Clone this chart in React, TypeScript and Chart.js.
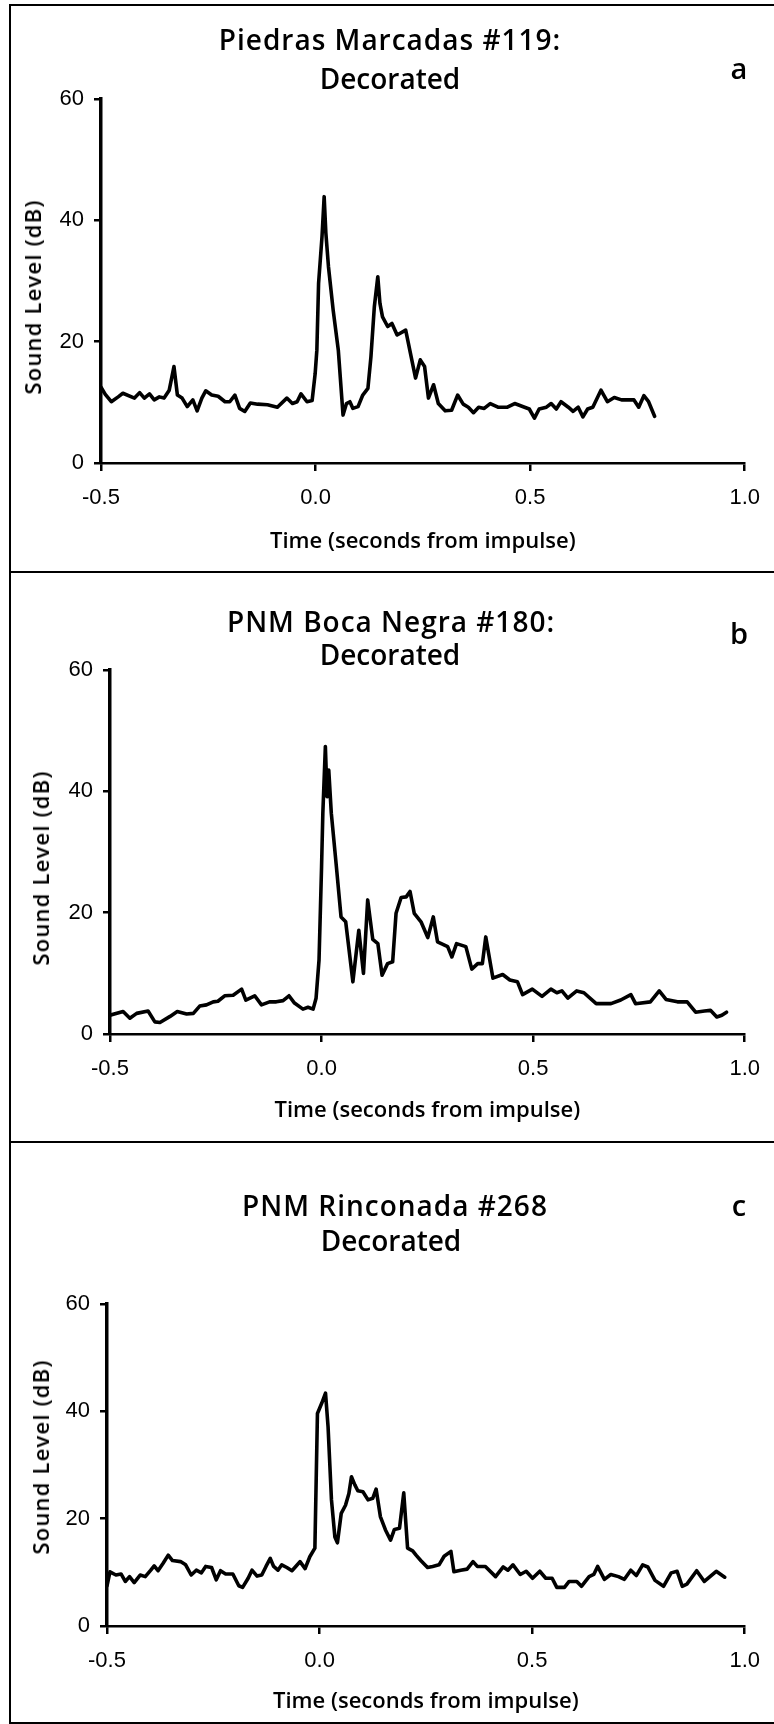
import React, { useEffect, useRef } from 'react';
import { Chart, registerables } from 'chart.js';

Chart.register(...registerables);

// ---------- data ----------
const xTickValues = [-0.5, 0, 0.5, 1.0];
const xTickLabels = ['-0.5', '0.0', '0.5', '1.0'];
const yTickValues = [0, 20, 40, 60];
const yTickLabels = ['0', '20', '40', '60'];

const timeA = [-0.500, -0.490, -0.476, -0.460, -0.449, -0.422, -0.410, -0.399, -0.387, -0.376, -0.364, -0.353, -0.341, -0.330, -0.322, -0.311, -0.299, -0.286, -0.276, -0.265, -0.256, -0.242, -0.227, -0.211, -0.200, -0.188, -0.177, -0.165, -0.152, -0.135, -0.112, -0.089, -0.067, -0.054, -0.043, -0.034, -0.020, -0.008, -0.001, 0.003, 0.007, 0.015, 0.020, 0.024, 0.030, 0.041, 0.053, 0.064, 0.072, 0.080, 0.087, 0.099, 0.110, 0.122, 0.129, 0.137, 0.145, 0.150, 0.156, 0.168, 0.178, 0.190, 0.210, 0.221, 0.233, 0.244, 0.254, 0.263, 0.275, 0.286, 0.302, 0.317, 0.331, 0.344, 0.356, 0.368, 0.380, 0.393, 0.407, 0.425, 0.447, 0.464, 0.487, 0.498, 0.510, 0.521, 0.538, 0.549, 0.561, 0.572, 0.589, 0.600, 0.612, 0.623, 0.634, 0.646, 0.665, 0.680, 0.696, 0.713, 0.731, 0.742, 0.753, 0.765, 0.776, 0.790];
const levelA = [12.5, 11.3, 10.1, 10.9, 11.5, 10.7, 11.6, 10.7, 11.4, 10.4, 10.9, 10.7, 12.0, 15.9, 11.2, 10.7, 9.3, 10.4, 8.6, 10.7, 11.9, 11.2, 11.0, 10.1, 10.1, 11.2, 9.0, 8.5, 9.9, 9.7, 9.6, 9.2, 10.7, 9.8, 10.1, 11.4, 10.1, 10.3, 14.7, 18.6, 29.6, 37.3, 43.9, 37.9, 32.4, 25.2, 18.6, 7.9, 9.8, 10.1, 9.0, 9.3, 11.2, 12.3, 17.5, 25.8, 30.7, 26.3, 24.1, 22.5, 23.0, 21.1, 21.9, 18.1, 14.0, 17.0, 15.9, 10.7, 12.9, 9.8, 8.6, 8.7, 11.2, 9.7, 9.2, 8.3, 9.2, 9.0, 9.8, 9.2, 9.2, 9.8, 9.2, 8.9, 7.4, 8.9, 9.2, 9.8, 8.9, 10.1, 9.2, 8.5, 9.2, 7.6, 8.9, 9.2, 12.0, 10.1, 10.8, 10.4, 10.4, 10.4, 9.2, 11.1, 10.1, 7.7];

const timeB = [-0.500, -0.469, -0.453, -0.437, -0.410, -0.394, -0.382, -0.358, -0.341, -0.319, -0.303, -0.288, -0.272, -0.256, -0.245, -0.229, -0.209, -0.189, -0.179, -0.158, -0.142, -0.123, -0.107, -0.091, -0.077, -0.064, -0.044, -0.032, -0.020, -0.013, -0.006, 0.000, 0.003, 0.009, 0.013, 0.017, 0.023, 0.035, 0.046, 0.057, 0.074, 0.088, 0.099, 0.109, 0.121, 0.133, 0.143, 0.156, 0.168, 0.176, 0.188, 0.200, 0.209, 0.219, 0.235, 0.251, 0.264, 0.274, 0.298, 0.308, 0.319, 0.341, 0.355, 0.369, 0.380, 0.388, 0.405, 0.428, 0.445, 0.463, 0.475, 0.498, 0.521, 0.542, 0.556, 0.568, 0.582, 0.603, 0.620, 0.649, 0.684, 0.707, 0.731, 0.742, 0.777, 0.798, 0.814, 0.841, 0.864, 0.884, 0.905, 0.919, 0.934, 0.946, 0.957];
const levelB = [3.1, 3.7, 2.6, 3.4, 3.8, 2.0, 1.9, 2.9, 3.7, 3.3, 3.4, 4.6, 4.8, 5.3, 5.4, 6.3, 6.4, 7.4, 5.6, 6.3, 4.8, 5.3, 5.3, 5.5, 6.3, 5.1, 4.1, 4.4, 4.1, 5.9, 12.2, 27.6, 36.4, 47.4, 39.1, 43.5, 36.4, 27.6, 19.3, 18.5, 8.6, 17.1, 10.0, 22.1, 15.6, 14.9, 9.7, 11.6, 11.9, 19.9, 22.5, 22.6, 23.5, 19.9, 18.5, 15.9, 19.3, 15.2, 14.4, 12.7, 14.9, 14.4, 10.7, 11.6, 11.6, 16.0, 9.2, 9.8, 8.9, 8.6, 6.5, 7.4, 6.2, 7.4, 6.8, 7.1, 5.9, 7.1, 6.8, 5.0, 5.0, 5.6, 6.5, 5.0, 5.3, 7.1, 5.7, 5.3, 5.3, 3.6, 3.8, 3.9, 2.8, 3.1, 3.6];

const timeC = [-0.500, -0.493, -0.479, -0.467, -0.457, -0.447, -0.436, -0.422, -0.410, -0.397, -0.389, -0.380, -0.368, -0.356, -0.346, -0.327, -0.315, -0.302, -0.290, -0.278, -0.268, -0.254, -0.243, -0.233, -0.221, -0.204, -0.190, -0.181, -0.168, -0.159, -0.147, -0.136, -0.126, -0.116, -0.108, -0.098, -0.089, -0.077, -0.065, -0.056, -0.046, -0.034, -0.023, -0.011, -0.005, 0.005, 0.014, 0.020, 0.028, 0.036, 0.042, 0.051, 0.061, 0.069, 0.075, 0.083, 0.090, 0.102, 0.114, 0.125, 0.133, 0.143, 0.155, 0.167, 0.176, 0.188, 0.198, 0.207, 0.219, 0.227, 0.238, 0.254, 0.266, 0.281, 0.293, 0.309, 0.316, 0.332, 0.347, 0.361, 0.371, 0.390, 0.414, 0.432, 0.443, 0.455, 0.472, 0.486, 0.501, 0.518, 0.532, 0.547, 0.558, 0.576, 0.587, 0.605, 0.616, 0.634, 0.645, 0.654, 0.670, 0.685, 0.703, 0.717, 0.732, 0.745, 0.760, 0.772, 0.789, 0.809, 0.827, 0.841, 0.853, 0.864, 0.887, 0.905, 0.933, 0.953];
const levelC = [7.5, 10.1, 9.5, 9.7, 8.3, 9.2, 8.1, 9.5, 9.2, 10.4, 11.2, 10.3, 11.7, 13.2, 12.2, 12.0, 11.4, 9.5, 10.4, 9.9, 11.1, 10.9, 8.6, 10.3, 9.7, 9.7, 7.5, 7.2, 8.9, 10.4, 9.3, 9.5, 11.1, 12.6, 11.1, 10.4, 11.4, 10.9, 10.3, 11.1, 12.0, 10.7, 12.9, 14.5, 39.6, 41.5, 43.4, 37.1, 23.5, 16.6, 15.5, 21.0, 22.5, 24.7, 27.8, 26.3, 25.2, 25.0, 23.5, 23.8, 25.5, 20.4, 17.9, 16.0, 18.0, 18.2, 24.8, 14.5, 14.0, 13.2, 12.2, 10.9, 11.1, 11.4, 13.0, 13.9, 10.1, 10.4, 10.6, 12.0, 11.1, 11.1, 9.2, 11.0, 10.4, 11.4, 9.6, 10.2, 8.9, 10.2, 8.9, 8.9, 7.2, 7.2, 8.3, 8.3, 7.4, 9.2, 9.6, 11.1, 8.7, 9.6, 9.2, 8.7, 10.4, 9.4, 11.4, 11.0, 8.5, 7.4, 9.9, 10.2, 7.4, 7.8, 10.3, 8.3, 10.2, 9.1];

const titlesA = ['Piedras Marcadas #119:', 'Decorated'];
const titlesB = ['PNM Boca Negra #180:', 'Decorated'];
const titlesC = ['PNM Rinconada #268', 'Decorated'];
const xAxisTitle = 'Time (seconds from impulse)';
const yAxisTitle = 'Sound Level (dB)';

// ---------- layout ----------
const TICK_FONT = "'Liberation Sans', Arial, sans-serif";
const TITLE_FONT = "'Open Sans', 'DejaVu Sans', sans-serif";

type PanelCfg = {
  time: number[];
  level: number[];
  top: number;
  height: number;
  area: { left: number; right: number; top: number; bottom: number };
  xTitlePad: number;
  titles: string[];
  titleY: number[];
  titleX: number[];
  letter: string;
  letterY: number;
  yTitleX: number;
  yTitleY: number;
};

const panels: PanelCfg[] = [
  {
    time: timeA, level: levelA, top: 0, height: 572,
    area: { left: 101, right: 753, top: 99, bottom: 463 },
    xTitlePad: 17, titles: titlesA, titleY: [39, 78], titleX: [390, 390],
    letter: 'a', letterY: 67, yTitleX: 32, yTitleY: 297,
  },
  {
    time: timeB, level: levelB, top: 572, height: 570,
    area: { left: 110, right: 746, top: 98, bottom: 462 },
    xTitlePad: 18, titles: titlesB, titleY: [621, 654], titleX: [391, 390],
    letter: 'b', letterY: 632, yTitleX: 40, yTitleY: 868,
  },
  {
    time: timeC, level: levelC, top: 1142, height: 582,
    area: { left: 107, right: 749, top: 162, bottom: 484 },
    xTitlePad: 9, titles: titlesC, titleY: [1205, 1240], titleX: [395, 391],
    letter: 'c', letterY: 1204, yTitleX: 40, yTitleY: 1457,
  },
];

const W = 774;

function Panel({ cfg }: { cfg: PanelCfg }) {
  const ref = useRef<HTMLCanvasElement | null>(null);
  useEffect(() => {
    if (!ref.current) return;
    const pts = cfg.time.slice(0, Math.min(cfg.time.length, cfg.level.length)).map((t, i) => ({ x: t, y: cfg.level[i] }));
    const chart = new Chart(ref.current, {
      type: 'line',
      data: {
        datasets: [
          {
            data: pts,
            borderColor: '#000',
            borderWidth: 3.6,
            pointRadius: 0,
            tension: 0,
            fill: false,
            borderJoinStyle: 'round',
            borderCapStyle: 'round',
          } as any,
        ],
      },
      options: {
        animation: false,
        responsive: false,
        maintainAspectRatio: false,
        events: [],
        layout: { padding: { left: 0, top: cfg.area.top, right: W - cfg.area.right, bottom: 0 } },
        plugins: { legend: { display: false }, tooltip: { enabled: false }, title: { display: false } },
        scales: {
          x: {
            type: 'linear',
            min: -0.5,
            max: 1.0,
            afterBuildTicks: (axis: any) => {
              axis.ticks = xTickValues.map((v) => ({ value: v }));
            },
            afterFit: (axis: any) => {
              axis.height = cfg.height - cfg.area.bottom;
            },
            ticks: {
              autoSkip: false,
              maxRotation: 0,
              padding: 14,
              color: '#000',
              font: { family: TICK_FONT, size: 22, lineHeight: 1.2 },
              callback: (_v: any, i: number) => xTickLabels[i],
            },
            grid: { drawOnChartArea: false, drawTicks: true, tickLength: 8, color: '#000', lineWidth: 2.5 },
            border: { display: true, color: '#000', width: 2.5 },
            title: {
              display: true,
              text: xAxisTitle,
              color: '#000',
              font: { family: TITLE_FONT, size: 22, weight: '600', lineHeight: 1.2 },
              padding: { top: 0, bottom: cfg.xTitlePad },
            },
          },
          y: {
            type: 'linear',
            min: 0,
            max: 60,
            afterBuildTicks: (axis: any) => {
              axis.ticks = yTickValues.map((v) => ({ value: v }));
            },
            afterFit: (axis: any) => {
              axis.width = cfg.area.left;
            },
            ticks: {
              padding: 10,
              color: '#000',
              font: { family: TICK_FONT, size: 22, lineHeight: 1.2 },
              callback: (_v: any, i: number) => yTickLabels[i],
            },
            grid: { drawOnChartArea: false, drawTicks: true, tickLength: 7, color: '#000', lineWidth: 2.5 },
            border: { display: true, color: '#000', width: 3.5 },
            title: { display: false },
          },
        },
      } as any,
    });
    return () => chart.destroy();
  }, [cfg]);
  return (
    <canvas
      ref={ref}
      width={W}
      height={cfg.height}
      style={{ position: 'absolute', left: 0, top: cfg.top, width: W, height: cfg.height, display: 'block' }}
    />
  );
}

const textBase: React.CSSProperties = {
  position: 'absolute',
  whiteSpace: 'nowrap',
  lineHeight: 1,
  color: '#000',
  fontFamily: TITLE_FONT,
  fontWeight: 600,
};

export default function App() {
  return (
    <div style={{ position: 'absolute', left: 0, top: 0, width: W, height: 1724, background: '#fff', overflow: 'hidden' }}>
      {/* frame */}
      <div style={{ position: 'absolute', left: 9, top: 4, width: W - 9, height: 2, background: '#000' }} />
      <div style={{ position: 'absolute', left: 9, top: 4, width: 2, height: 1720, background: '#000' }} />
      <div style={{ position: 'absolute', left: 9, top: 571, width: W - 9, height: 2, background: '#000' }} />
      <div style={{ position: 'absolute', left: 9, top: 1141, width: W - 9, height: 2, background: '#000' }} />
      <div style={{ position: 'absolute', left: 9, top: 1722, width: W - 9, height: 2, background: '#000' }} />

      {panels.map((p, k) => (
        <Panel key={k} cfg={p} />
      ))}

      {panels.map((p, k) => (
        <React.Fragment key={'t' + k}>
          {p.titles.map((t, j) => (
            <div
              key={j}
              style={{
                ...textBase,
                left: p.titleX[j],
                top: p.titleY[j],
                fontSize: 28,
                letterSpacing: j === 0 ? 1 : 0,
                transform: 'translate(-50%, -50%)',
              }}
            >
              {t}
            </div>
          ))}
          <div style={{ ...textBase, left: 739, top: p.letterY, fontSize: 29, transform: 'translate(-50%, -50%)' }}>
            {p.letter}
          </div>
          <div
            style={{
              ...textBase,
              left: p.yTitleX,
              top: p.yTitleY,
              fontSize: 22,
              letterSpacing: 1.2,
              transform: 'translate(-50%, -50%) rotate(-90deg)',
            }}
          >
            {yAxisTitle}
          </div>
        </React.Fragment>
      ))}
    </div>
  );
}
